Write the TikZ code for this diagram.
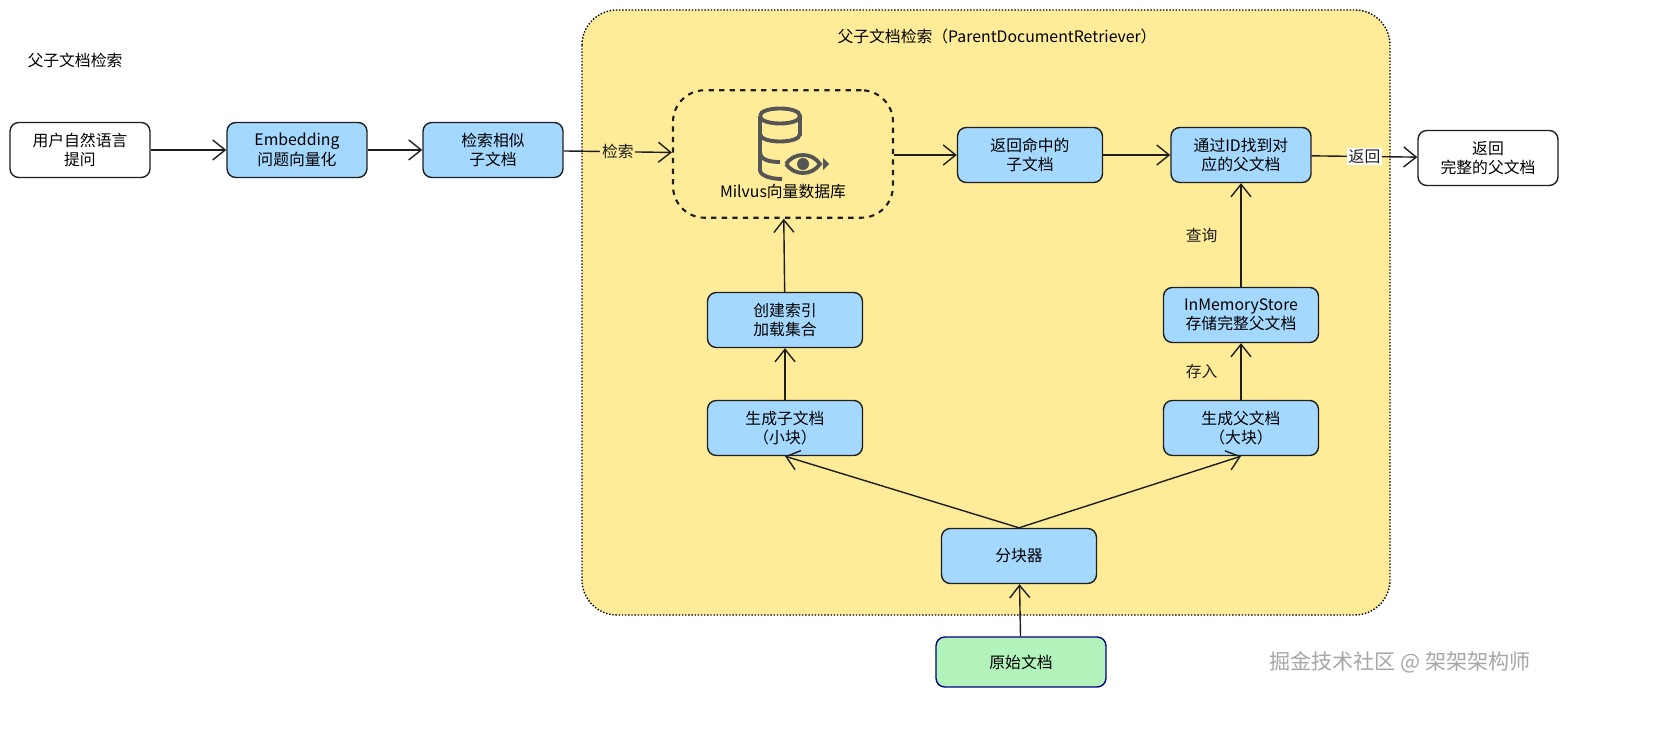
\documentclass[tikz,border=0pt]{standalone}
\usepackage{fontspec}
\setmainfont{Noto Sans CJK SC}
\usetikzlibrary{arrows.meta,positioning}
\definecolor{boxblue}{HTML}{A5D8FF}
\definecolor{areayellow}{HTML}{FFEC99}
\definecolor{boxgreen}{HTML}{B2F2BB}
\definecolor{inkdark}{HTML}{1E1E1E}
\definecolor{icongray}{HTML}{555555}
\tikzset{
  box/.style={draw=inkdark, thick, rounded corners=5pt, fill=boxblue, minimum width=2.8cm, minimum height=1.1cm, align=center, font=\fontsize{9}{11}\selectfont},
  plainbox/.style={box, fill=white},
  arr/.style={thick, inkdark, -{Straight Barb[length=2.5mm,width=4mm]}},
  lbl/.style={font=\fontsize{9}{11}\selectfont, inner sep=1pt}
}
\begin{document}
\begin{tikzpicture}[x=0.02cm,y=-0.02cm]
    \useasboundingbox (0,0) rectangle (1658,736);
    % Bereich
    \draw[thick, densely dotted, fill=areayellow, rounded corners=20pt] (582,10) rectangle (1390,615);
    \node[lbl] (title) at (75,60) {父子文档检索};
    \node[lbl] (areatitle) at (997,36) {父子文档检索（ParentDocumentRetriever）};

    % Knoten
    \node[plainbox, minimum width=2.8cm] (user) at (80,150) {用户自然语言\\提问};
    \node[box] (emb) at (297,150) {Embedding\\问题向量化};
    \node[box] (sim) at (493,150) {检索相似\\子文档};
    \node[draw=inkdark, very thick, dashed, rounded corners=18pt, minimum width=4.4cm, minimum height=2.55cm] (milvus) at (783,154) {};
    \node[lbl] (milvuslbl) at (783,192) {Milvus向量数据库};
    \node[box, minimum width=2.9cm] (hit) at (1030,155) {返回命中的\\子文档};
    \node[box] (find) at (1241,155) {通过ID找到对\\应的父文档};
    \node[plainbox] (full) at (1488,158) {返回\\完整的父文档};
    \node[box, minimum width=3.1cm] (idx) at (785,320) {创建索引\\加载集合};
    \node[box, minimum width=3.1cm] (store) at (1241,315) {InMemoryStore\\存储完整父文档};
    \node[box, minimum width=3.1cm] (child) at (785,428) {生成子文档\\（小块）};
    \node[box, minimum width=3.1cm] (parent) at (1241,428) {生成父文档\\（大块）};
    \node[box, minimum width=3.1cm] (split) at (1019,556) {分块器};
    \node[box, fill=boxgreen, draw=blue!50!black, minimum width=3.4cm, minimum height=1cm] (orig) at (1021,662) {原始文档};
    \node[font=\fontsize{12}{14}\selectfont, text=gray!70] (mark) at (1400,662) {掘金技术社区 @ 架架架构师};

    % Datenbank-Symbol
    \begin{scope}[shift={(780,142)}, icongray, line width=2.2pt]
        \draw (-20,-26) .. controls (-20,-36) and (20,-36) .. (20,-26) .. controls (20,-16) and (-20,-16) .. (-20,-26);
        \draw (-20,-26) -- (-20,28) .. controls (-20,34) and (-8,37) .. (2,37);
        \draw (20,-26) -- (20,-6);
        \draw (-20,-8) .. controls (-20,2) and (20,2) .. (20,-8);
        \draw (-20,10) .. controls (-20,18) and (-10,20) .. (0,20);
        \draw (6,22) .. controls (14,10) and (32,10) .. (40,22) .. controls (32,34) and (14,34) .. (6,22);
        \fill (23,22) circle (6);
        \fill (43,16) -- (49,22) -- (43,28) -- cycle;
    \end{scope}

    % Verbindungen
    \draw[arr] (user) -- (emb);
    \draw[arr] (emb) -- (sim);
    \draw[arr] (sim) -- node[lbl, fill=areayellow] {检索} (milvus);
    \draw[arr] (milvus.east |- hit) -- (hit);
    \draw[arr] (hit) -- (find);
    \draw[arr] (find) -- node[lbl, fill=white] {返回} (full);
    \draw[arr] (idx) -- (milvus);
    \draw[arr] (child) -- (idx);
    \draw[arr] (store) -- node[lbl, left=12pt] {查询} (find);
    \draw[arr] (parent) -- node[lbl, left=12pt] {存入} (store);
    \draw[arr] (split.north) -- (child.south);
    \draw[arr] (split.north) -- (parent.south);
    \draw[arr] (orig) -- (split);
\end{tikzpicture}
\end{document}
